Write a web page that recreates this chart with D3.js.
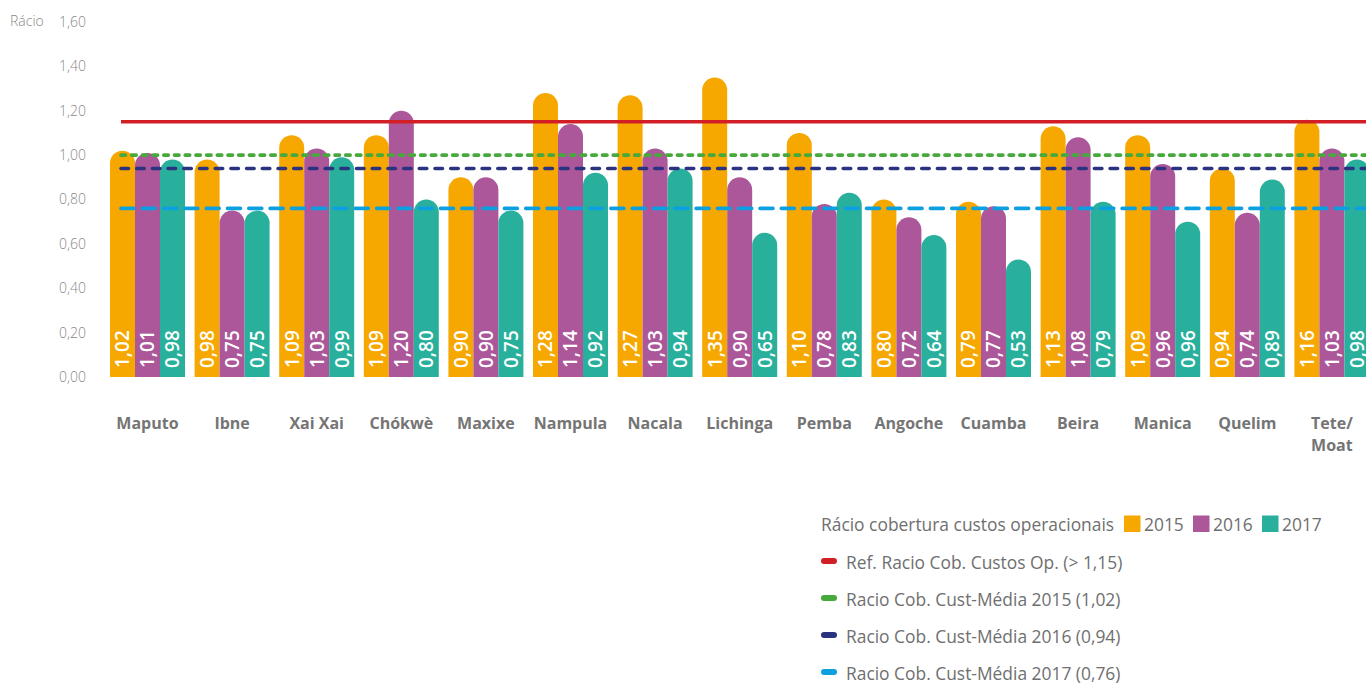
<!DOCTYPE html>
<html>
<head>
<meta charset="utf-8">
<script src="https://cdn.jsdelivr.net/npm/d3@7"></script>
<style>
  html, body { margin: 0; padding: 0; background: #fff; }
  svg { display: block; font-family: "Open Sans", "Noto Sans", sans-serif; }
</style>
</head>
<body>
<svg id="chart" width="1366" height="683"></svg>
<script>
// ---- data ----
const categories = ["Maputo", "Ibne", "Xai Xai", "Chókwè", "Maxixe", "Nampula", "Nacala", "Lichinga", "Pemba", "Angoche", "Cuamba", "Beira", "Manica", "Quelim", "Tete/\nMoat"];
const years = ["2015", "2016", "2017"];
const values2015 = [1.02, 0.98, 1.09, 1.09, 0.90, 1.28, 1.27, 1.35, 1.10, 0.80, 0.79, 1.13, 1.09, 0.94, 1.16];
const values2016 = [1.01, 0.75, 1.03, 1.20, 0.90, 1.14, 1.03, 0.90, 0.78, 0.72, 0.77, 1.08, 0.96, 0.74, 1.03];
const values2017 = [0.98, 0.75, 0.99, 0.80, 0.75, 0.92, 0.94, 0.65, 0.83, 0.64, 0.53, 0.79, 0.70, 0.89, 0.98];
const labels2017 = ["0,98", "0,75", "0,99", "0,80", "0,75", "0,92", "0,94", "0,65", "0,83", "0,64", "0,53", "0,79", "0,96", "0,89", "0,98"];
const yTicks = [0, 0.2, 0.4, 0.6, 0.8, 1.0, 1.2, 1.4, 1.6];
const refValues = [1.15, 1.00, 0.94, 0.76];
const refLabels = ["Ref. Racio Cob. Custos Op. (> 1,15)", "Racio Cob. Cust-Média 2015 (1,02)", "Racio Cob. Cust-Média 2016 (0,94)", "Racio Cob. Cust-Média 2017 (0,76)"];
const legendTitle = "Rácio cobertura custos operacionais";
const yAxisTitle = "Rácio";

// ---- styles ----
const barColors = ["#F7A800", "#AC579A", "#29B09D"];
const refColors = ["#D21F26", "#47A93C", "#2B3380", "#0CA0E0"];
const refDash = [null, "4.5,6.2", "7.5,8.2", "13,8.3"];
const refWidth = [3.5, 3.6, 3.6, 3.6];
const textGray = "#6f6f6f";

const locale = d3.formatLocale({decimal: ",", thousands: ".", grouping: [3], currency: ["", ""]});
const fmt = locale.format(".2f");

const svg = d3.select("#chart");

const x0 = d3.scaleBand()
  .domain(categories)
  .range([110, 110 + 84.6 * (categories.length - 0.1135)])
  .paddingInner(0.1135)
  .paddingOuter(0);
const x1 = d3.scaleBand().domain(years).range([0, x0.bandwidth()]).padding(0);
const y = d3.scaleLinear().domain([0, 1.6]).range([377, 22]);

// y axis (labels only)
const yAxis = d3.axisLeft(y).tickValues(yTicks).tickFormat(fmt).tickSize(0).tickPadding(0);
const gy = svg.append("g").attr("transform", "translate(86,0)").call(yAxis);
gy.select(".domain").remove();
gy.selectAll("text")
  .attr("fill", "#888")
  .attr("font-size", 14)
  .attr("font-weight", 300)
  .attr("font-family", "'Open Sans', sans-serif");

svg.append("text")
  .attr("x", 10).attr("y", y(1.6)).attr("dy", "0.32em")
  .attr("fill", "#888").attr("font-size", 14).attr("font-weight", 300)
  .text(yAxisTitle);

// bars
const series = [values2015, values2016, values2017];
const seriesLabels = [values2015.map(fmt), values2016.map(fmt), labels2017];
const rows = [];
categories.forEach((c, i) => {
  years.forEach((yr, s) => {
    rows.push({cat: c, year: yr, s, v: series[s][i], label: seriesLabels[s][i]});
  });
});

function roundTop(d) {
  const x = x0(d.cat) + x1(d.year);
  const w = x1.bandwidth();
  const r = w / 2;
  const y0 = y(0);
  const yt = y(d.v);
  return `M${x},${y0}V${yt + r}A${r},${r} 0 0 1 ${x + w},${yt + r}V${y0}Z`;
}

const gBars = svg.append("g");
gBars.selectAll("path.bar").data(rows).join("path")
  .attr("class", "bar")
  .attr("d", roundTop)
  .attr("fill", d => barColors[d.s]);

// reference lines
const gRef = svg.append("g");
refValues.forEach((v, i) => {
  gRef.append("line")
    .attr("x1", 121).attr("x2", 1372)
    .attr("y1", y(v)).attr("y2", y(v))
    .attr("stroke", refColors[i])
    .attr("stroke-width", refWidth[i])
    .attr("stroke-linecap", i === 0 ? "butt" : "round")
    .attr("stroke-dasharray", refDash[i]);
});

// bar value labels
gBars.selectAll("text.val").data(rows).join("text")
  .attr("class", "val")
  .attr("transform", d => {
    const cx = x0(d.cat) + x1(d.year) + x1.bandwidth() / 2;
    return `translate(${cx + 7},${y(0) - 9}) rotate(-90)`;
  })
  .attr("fill", "#fff")
  .attr("font-size", 19)
  .attr("font-weight", 600)
  .text(d => d.label);

// category labels
const gCat = svg.append("g");
categories.forEach(c => {
  const t = gCat.append("text")
    .attr("x", x0(c) + x0.bandwidth() / 2)
    .attr("y", 429)
    .attr("text-anchor", "middle")
    .attr("fill", "#757575")
    .attr("font-size", 16)
    .attr("font-weight", 700);
  c.split("\n").forEach((line, k) => {
    t.append("tspan").attr("x", x0(c) + x0.bandwidth() / 2).attr("dy", k === 0 ? 0 : 22).text(line);
  });
});

// legend
const lg = svg.append("g");
const lgFont = 17.4;
lg.append("text").attr("x", 821).attr("y", 530.5)
  .attr("fill", textGray).attr("font-size", lgFont).text(legendTitle);
const sqX = [1124, 1193, 1262];
years.forEach((yr, s) => {
  lg.append("rect").attr("x", sqX[s]).attr("y", 515.5).attr("width", 16.5).attr("height", 16.5).attr("fill", barColors[s]);
  lg.append("text").attr("x", sqX[s] + 20).attr("y", 530.5)
    .attr("fill", textGray).attr("font-size", lgFont).text(yr);
});
refLabels.forEach((lab, i) => {
  const cy = 561 + i * 37;
  lg.append("line").attr("x1", 824).attr("x2", 834).attr("y1", cy).attr("y2", cy)
    .attr("stroke", refColors[i]).attr("stroke-width", 6).attr("stroke-linecap", "round");
  lg.append("text").attr("x", 846).attr("y", cy + 7.5)
    .attr("fill", textGray).attr("font-size", lgFont).text(lab);
});
</script>
</body>
</html>
